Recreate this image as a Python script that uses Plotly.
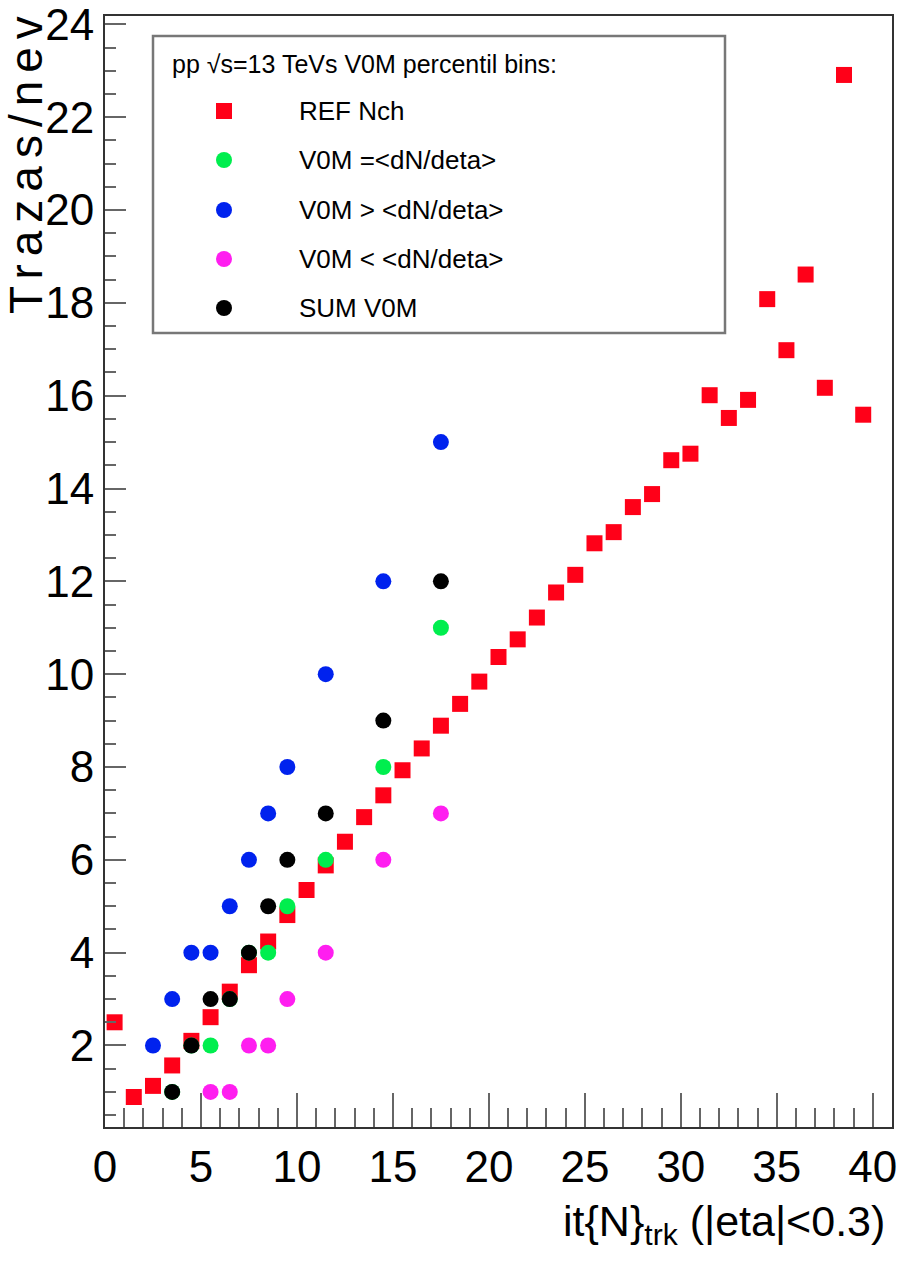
import plotly.graph_objects as go

# --- data -------------------------------------------------------------
nch_bins = [0.5, 1.5, 2.5, 3.5, 4.5, 5.5, 6.5, 7.5, 8.5, 9.5,
            10.5, 11.5, 12.5, 13.5, 14.5, 15.5, 16.5, 17.5, 18.5, 19.5,
            20.5, 21.5, 22.5, 23.5, 24.5, 25.5, 26.5, 27.5, 28.5, 29.5,
            30.5, 31.5, 32.5, 33.5, 34.5, 35.5, 36.5, 37.5, 38.5, 39.5]
ref_nch = [2.50, 0.89, 1.13, 1.57, 2.10, 2.61, 3.16, 3.73, 4.24, 4.81,
           5.35, 5.88, 6.39, 6.92, 7.39, 7.93, 8.40, 8.89, 9.36, 9.84,
           10.37, 10.75, 11.22, 11.76, 12.14, 12.82, 13.06, 13.60, 13.88, 14.61,
           14.75, 16.01, 15.52, 15.91, 18.08, 16.98, 18.61, 16.17, 22.91, 15.59]

v0m_eq_x = [3.5, 4.5, 5.5, 6.5, 7.5, 8.5, 9.5, 11.5, 14.5, 17.5]
v0m_eq_y = [1, 2, 2, 3, 4, 4, 5, 6, 8, 11]

v0m_gt_x = [2.5, 3.5, 4.5, 5.5, 6.5, 7.5, 8.5, 9.5, 11.5, 14.5, 17.5]
v0m_gt_y = [2, 3, 4, 4, 5, 6, 7, 8, 10, 12, 15]

v0m_lt_x = [5.5, 6.5, 7.5, 8.5, 9.5, 11.5, 14.5, 17.5]
v0m_lt_y = [1, 1, 2, 2, 3, 4, 6, 7]

sum_x = [3.5, 4.5, 5.5, 6.5, 7.5, 8.5, 9.5, 11.5, 14.5, 17.5]
sum_y = [1, 2, 3, 3, 4, 5, 6, 7, 9, 12]

series_names = ["REF Nch", "V0M =<dN/deta>", "V0M > <dN/deta>", "V0M < <dN/deta>", "SUM V0M"]
legend_header = "pp √s=13 TeVs V0M percentil bins:"
legend_labels = ["REF Nch", "V0M =&lt;dN/deta&gt;", "V0M &gt; &lt;dN/deta&gt;",
                 "V0M &lt; &lt;dN/deta&gt;", "SUM V0M"]

RED, GREEN, BLUE, MAGENTA, BLACK = "#ff0018", "#00ee4e", "#0022ee", "#ff1ef0", "#000000"

# --- canvas geometry ---------------------------------------------------
W, H = 905, 1263
L, R, T, B = 105, 13, 16, 136
PW, PH = W - L - R, H - T - B

def px_x(px):
    return (px - L) / PW

def px_y(py):
    return (H - B - py) / PH

FONT = "Liberation Sans, Arial, Helvetica"

fig = go.Figure()

series = [
    (nch_bins, ref_nch, RED, "square"),
    (v0m_eq_x, v0m_eq_y, GREEN, "circle"),
    (v0m_gt_x, v0m_gt_y, BLUE, "circle"),
    (v0m_lt_x, v0m_lt_y, MAGENTA, "circle"),
    (sum_x, sum_y, BLACK, "circle"),
]
for (xs, ys, col, sym), name in zip(series, series_names):
    fig.add_trace(go.Scatter(
        x=xs, y=ys, mode="markers", name=name, showlegend=False,
        marker=dict(symbol=sym, size=16, color=col, line=dict(width=0)),
    ))

# --- legend box ---------------------------------------------------------
shapes = [dict(type="rect", xref="paper", yref="paper",
               x0=px_x(153), x1=px_x(725), y0=px_y(333), y1=px_y(36),
               line=dict(color="#777777", width=2.5), fillcolor="white", layer="above")]
annotations = [dict(text=legend_header, xref="paper", yref="paper",
                    x=px_x(170), y=px_y(64), xanchor="left", yanchor="middle",
                    showarrow=False, font=dict(family=FONT, size=25, color="black"))]

row_y = [111, 160, 210, 259, 308]
for (xs, ys, col, sym), label, ry in zip(series, legend_labels, row_y):
    shapes.append(dict(type="rect" if sym == "square" else "circle",
                       xref="paper", yref="paper", xsizemode="pixel", ysizemode="pixel",
                       xanchor=px_x(224), yanchor=px_y(ry), x0=-8, x1=8, y0=-8, y1=8,
                       fillcolor=col, line=dict(width=0), layer="above"))
    annotations.append(dict(text=label, xref="paper", yref="paper",
                            x=px_x(297), y=px_y(ry), xanchor="left", yanchor="middle",
                            showarrow=False, font=dict(family=FONT, size=26, color="black")))

# --- axis titles ---------------------------------------------------------
annotations.append(dict(text="it{N}<sub>trk</sub> (|eta|&lt;0.3)", xref="paper", yref="paper",
                        x=px_x(887), y=px_y(1224), xanchor="right", yanchor="middle",
                        showarrow=False, font=dict(family=FONT, size=43, color="black")))
annotations.append(dict(text="<span style='letter-spacing:8px'>Trazas/nev</span>",
                        xref="paper", yref="paper", textangle=-90,
                        x=px_x(26), y=px_y(6), xanchor="center", yanchor="top",
                        showarrow=False, font=dict(family=FONT, size=46, color="black")))

axis_common = dict(showline=True, linecolor="#333333", linewidth=2, mirror=True,
                   showgrid=False, zeroline=False, ticks="inside", tickwidth=2,
                   tickcolor="#666666", ticklabeloverflow="allow", automargin=False,
                   tickfont=dict(family=FONT, size=44, color="black"))

fig.update_layout(
    width=W, height=H, autosize=False,
    margin=dict(l=L, r=R, t=T, b=B),
    paper_bgcolor="white", plot_bgcolor="white",
    xaxis=dict(range=[0, 41], tick0=0, dtick=5, ticklen=34,
               minor=dict(dtick=1, tick0=0, ticks="inside", ticklen=19, tickwidth=2,
                          tickcolor="#666666", showgrid=False),
               **axis_common),
    yaxis=dict(range=[0.244, 24.18], tick0=0, dtick=2, ticklen=21,
               minor=dict(dtick=0.5, tick0=0, ticks="inside", ticklen=11, tickwidth=2,
                          tickcolor="#666666", showgrid=False),
               **axis_common),
    shapes=shapes,
    annotations=annotations,
    showlegend=False,
)

fig.write_html("out.html")
